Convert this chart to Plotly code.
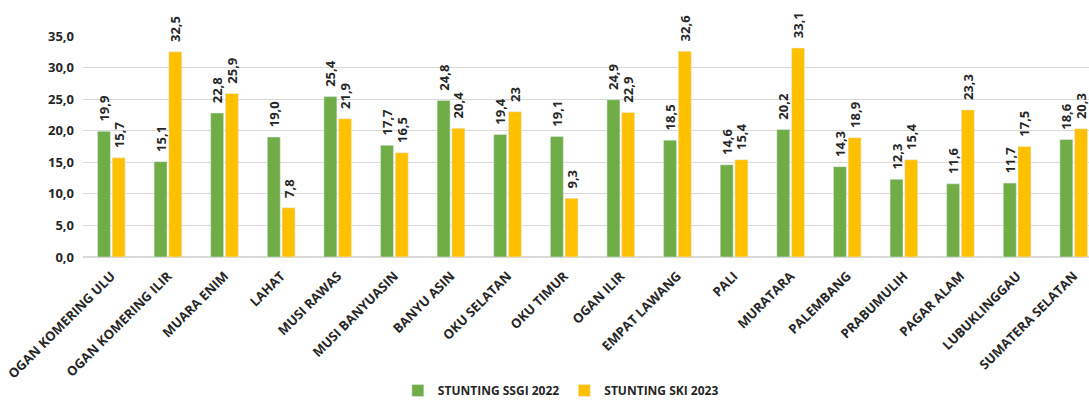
import plotly.graph_objects as go

regions = ["OGAN KOMERING ULU", "OGAN KOMERING ILIR", "MUARA ENIM", "LAHAT", "MUSI RAWAS",
           "MUSI BANYUASIN", "BANYU ASIN", "OKU SELATAN", "OKU TIMUR", "OGAN ILIR",
           "EMPAT LAWANG", "PALI", "MURATARA", "PALEMBANG", "PRABUMULIH", "PAGAR ALAM",
           "LUBUKLINGGAU", "SUMATERA SELATAN"]
ssgi_2022 = [19.9, 15.1, 22.8, 19.0, 25.4, 17.7, 24.8, 19.4, 19.1, 24.9,
             18.5, 14.6, 20.2, 14.3, 12.3, 11.6, 11.7, 18.6]
ski_2023 = [15.7, 32.5, 25.9, 7.8, 21.9, 16.5, 20.4, 23, 9.3, 22.9,
            32.6, 15.4, 33.1, 18.9, 15.4, 23.3, 17.5, 20.3]

def fmt(v):
    # comma decimals, nbsp pad = gap between bar top and rotated label
    return "\u00a0\u00a0" + f"{v:.1f}".replace(".", ",")

ssgi_text = [fmt(v) for v in ssgi_2022]
ski_text = [fmt(v) for v in ski_2023]
ski_text[7] = "\u00a0\u00a023"  # shown without decimals in the source

font = "Open Sans"
lbl = dict(size=13, color="#262626", family=font, weight="bold")
fig = go.Figure()
fig.add_bar(x=regions, y=ssgi_2022, name="STUNTING SSGI 2022", marker_color="#70AD47",
            text=ssgi_text, textposition="outside", textangle=-90, constraintext="none",
            cliponaxis=False, textfont=lbl)
fig.add_bar(x=regions, y=ski_2023, name="STUNTING SKI 2023", marker_color="#FFC000",
            text=ski_text, textposition="outside", textangle=-90, constraintext="none",
            cliponaxis=False, textfont=lbl)

fig.update_layout(
    width=1089, height=405,
    margin=dict(l=83, r=0, t=36, b=148),
    barmode="group", bargap=0.48, bargroupgap=0.12,
    separators=", ",
    plot_bgcolor="white", paper_bgcolor="white",
    font=dict(family=font, color="#262626"),
    legend=dict(orientation="h", x=0.475, xanchor="center",
                yref="container", y=0, yanchor="bottom",
                font=dict(size=12, family=font, weight="bold"),
                itemwidth=30, traceorder="normal"),
)
fig.update_xaxes(range=[-0.5, 17.27], tickangle=-45, showgrid=False, showline=False,
                 ticks="", automargin=False, ticklabelstandoff=8,
                 tickfont=dict(size=13, family=font, weight="bold", color="#262626"))
fig.update_yaxes(range=[0, 35], dtick=5, tickformat=".1f", gridcolor="#D9D9D9",
                 zeroline=True, zerolinecolor="#D9D9D9", showline=False, ticks="",
                 automargin=False, ticklabelstandoff=8,
                 tickfont=dict(size=13, family=font, weight="bold", color="#262626"))

fig.write_html("out.html", config={"displayModeBar": False},
               post_script="document.body.style.margin='0';")
